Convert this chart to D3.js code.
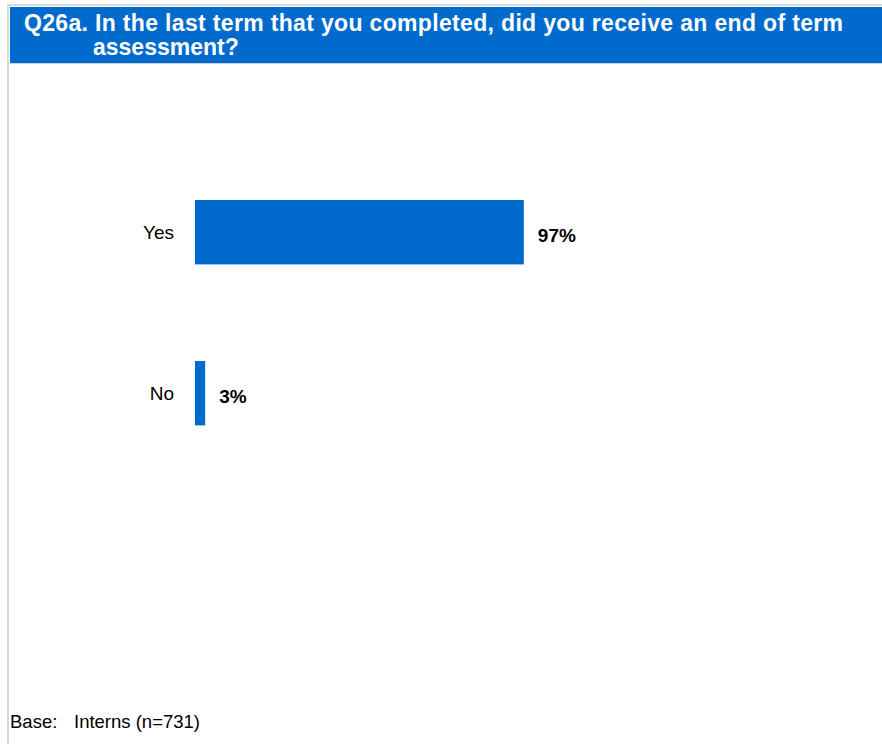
<!DOCTYPE html>
<html>
<head>
<meta charset="utf-8">
<script src="https://cdn.jsdelivr.net/npm/d3@7"></script>
<style>
  html, body { margin: 0; padding: 0; background: #fff; }
  svg { display: block; font-family: "Liberation Sans", Arial, sans-serif; }
</style>
</head>
<body>
<svg id="chart" width="882" height="744"></svg>
<script>
const categories = ["Yes", "No"];
const values = [97, 3];
const titleLines = ["Q26a. In the last term that you completed, did you receive an end of term", "assessment?"];
const footnoteParts = ["Base:", "Interns (n=731)"];

const svg = d3.select("#chart");
const W = 882, H = 744;
const blue = "#006BCD";

// frame borders
svg.append("rect").attr("x", 7).attr("y", 4).attr("width", W - 7).attr("height", 2).attr("fill", "#d9d9d9");
svg.append("rect").attr("x", 7).attr("y", 4).attr("width", 2).attr("height", H - 4).attr("fill", "#d9d9d9");

// title bar
svg.append("rect").attr("x", 10).attr("y", 7).attr("width", W - 10).attr("height", 56).attr("fill", blue);
svg.append("rect").attr("x", 10).attr("y", 63).attr("width", W - 10).attr("height", 1).attr("fill", "#d0d0d0");

const title = svg.append("text")
  .attr("fill", "#fff")
  .attr("font-weight", "bold")
  .attr("font-size", 23);
title.append("tspan").attr("x", 24).attr("y", 30.5)
  .attr("textLength", 819).attr("lengthAdjust", "spacing")
  .text(titleLines[0]);
title.append("tspan").attr("x", 93).attr("y", 55).text(titleLines[1]);

// scales
const x = d3.scaleLinear().domain([0, 100]).range([195, 534]);
const y = d3.scaleBand().domain(categories).range([151.7, 473.7]).paddingInner(0.6).paddingOuter(0.3);

const data = categories.map((c, i) => ({ cat: c, val: values[i] }));

svg.selectAll("rect.bar").data(data).join("rect")
  .attr("class", "bar")
  .attr("x", x(0))
  .attr("y", d => y(d.cat))
  .attr("width", d => x(d.val) - x(0))
  .attr("height", y.bandwidth())
  .attr("fill", blue);

svg.selectAll("text.cat").data(data).join("text")
  .attr("class", "cat")
  .attr("x", 174)
  .attr("y", d => y(d.cat) + y.bandwidth() / 2 + 7)
  .attr("text-anchor", "end")
  .attr("font-size", 19)
  .attr("fill", "#000")
  .text(d => d.cat);

svg.selectAll("text.val").data(data).join("text")
  .attr("class", "val")
  .attr("x", d => x(d.val) + 14)
  .attr("y", d => y(d.cat) + y.bandwidth() / 2 + 9.5)
  .attr("font-size", 19)
  .attr("font-weight", "bold")
  .attr("fill", "#000")
  .text(d => d.val + "%");

const foot = svg.append("text")
  .attr("y", 728)
  .attr("font-size", 18.5)
  .attr("fill", "#000");
foot.append("tspan").attr("x", 10).text(footnoteParts[0]);
foot.append("tspan").attr("x", 74).text(footnoteParts[1]);
</script>
</body>
</html>
